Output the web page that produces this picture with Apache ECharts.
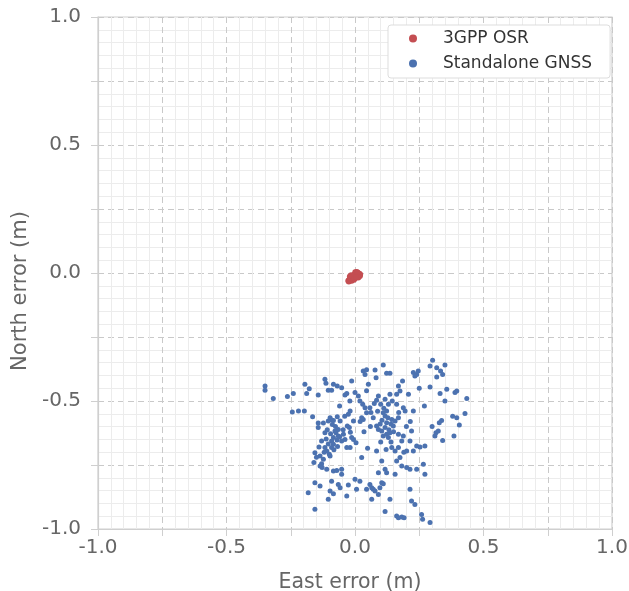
<!DOCTYPE html>
<html>
<head>
<meta charset="utf-8">
<script src="https://cdn.jsdelivr.net/npm/echarts@6/dist/echarts.min.js"></script>
<style>html,body{margin:0;padding:0;background:#fff;}#c{width:629px;height:591px;}</style>
</head>
<body>
<div id="c"></div>
<script>
const seriesNames = ['3GPP OSR', 'Standalone GNSS'];
const xTickLabels = ['-1.0', '-0.5', '0.0', '0.5', '1.0'];
const yTickLabels = ['-1.0', '-0.5', '0.0', '0.5', '1.0'];

const osrPoints = [
  [-0.026,-0.030],[-0.022,-0.026],[-0.018,-0.028],[-0.016,-0.020],[-0.013,-0.030],
  [-0.012,-0.016],[-0.009,-0.022],[-0.007,-0.012],[-0.004,-0.018],[-0.002,-0.006],
  [0.000,-0.013],[0.002,-0.004],[0.005,-0.009],[0.008,-0.001],[0.010,-0.016],
  [0.012,-0.007],[0.015,-0.010],[0.017,-0.003],[0.019,-0.012],[-0.020,-0.014],
  [-0.024,-0.033],[0.001,0.003],[0.006,0.004],[-0.005,-0.026],[0.013,-0.018],
  [0.020,-0.006],[-0.015,-0.009],[-0.001,-0.022],[0.010,0.002],[0.004,-0.016]
];

const gnssPoints = [
  [-0.350,-0.441],[-0.350,-0.458],[-0.318,-0.490],[-0.263,-0.482],[-0.240,-0.471],
  [-0.244,-0.543],[-0.220,-0.539],[-0.197,-0.539],[-0.195,-0.435],[-0.178,-0.452],
  [-0.188,-0.471],[-0.143,-0.477],[-0.165,-0.562],[-0.143,-0.586],[-0.117,-0.415],
  [-0.113,-0.431],[-0.104,-0.458],[-0.091,-0.458],[-0.084,-0.435],[-0.069,-0.441],
  [-0.052,-0.448],[-0.032,-0.471],[-0.039,-0.477],[-0.013,-0.422],[0.032,-0.383],
  [0.039,-0.396],[0.045,-0.378],[0.078,-0.379],[0.082,-0.409],[0.110,-0.359],
  [0.123,-0.392],[0.136,-0.392],[0.052,-0.435],[0.000,-0.467],[0.013,-0.480],
  [0.019,-0.500],[0.030,-0.513],[0.039,-0.526],[0.045,-0.546],[0.026,-0.565],
  [0.032,-0.572],[-0.019,-0.539],[-0.026,-0.552],[-0.006,-0.578],[-0.022,-0.604],
  [0.091,-0.480],[0.084,-0.497],[0.100,-0.513],[0.117,-0.493],[0.130,-0.513],
  [0.123,-0.539],[0.117,-0.559],[0.110,-0.546],[0.136,-0.474],[0.162,-0.474],
  [0.175,-0.461],[0.169,-0.441],[0.185,-0.422],[0.208,-0.474],[0.162,-0.513],
  [0.188,-0.526],[0.195,-0.539],[0.143,-0.572],[0.156,-0.578],[0.169,-0.565],
  [0.227,-0.389],[0.240,-0.396],[0.246,-0.383],[0.233,-0.402],[0.292,-0.363],
  [0.302,-0.341],[0.318,-0.370],[0.333,-0.383],[0.341,-0.396],[0.350,-0.359],
  [0.292,-0.445],[0.331,-0.471],[0.357,-0.454],[0.389,-0.467],[0.396,-0.461],
  [0.318,-0.406],[0.435,-0.490],[0.428,-0.549],[0.396,-0.565],[0.406,-0.594],
  [0.337,-0.576],[0.328,-0.585],[0.315,-0.624],[0.311,-0.637],[0.324,-0.617],
  [0.341,-0.654],[0.385,-0.637],[0.227,-0.539],[0.220,-0.617],[0.058,-0.526],
  [0.071,-0.565],[0.084,-0.598],[0.091,-0.611],[0.104,-0.617],[0.117,-0.604],
  [0.123,-0.585],[0.110,-0.637],[0.123,-0.630],[0.130,-0.643],[0.136,-0.624],
  [0.149,-0.598],[0.169,-0.630],[0.182,-0.656],[0.188,-0.637],[0.169,-0.682],
  [0.121,-0.689],[0.143,-0.682],[0.156,-0.695],[0.175,-0.721],[0.201,-0.695],
  [0.214,-0.656],[0.227,-0.695],[0.240,-0.676],[0.253,-0.680],[0.272,-0.676],
  [0.266,-0.747],[0.272,-0.786],[0.201,-0.760],[0.214,-0.767],[0.240,-0.767],
  [0.162,-0.734],[0.182,-0.754],[0.084,-0.695],[0.104,-0.734],[0.117,-0.767],
  [0.123,-0.780],[0.156,-0.786],[0.091,-0.780],[0.104,-0.819],[0.110,-0.823],
  [0.097,-0.839],[0.058,-0.826],[0.065,-0.839],[0.071,-0.845],[0.078,-0.852],
  [0.091,-0.865],[0.045,-0.845],[0.019,-0.813],[0.006,-0.845],[0.065,-0.884],
  [0.136,-0.884],[0.117,-0.932],[0.162,-0.949],[0.169,-0.956],[0.182,-0.953],
  [0.191,-0.956],[0.214,-0.845],[0.220,-0.891],[0.233,-0.904],[0.259,-0.943],
  [0.263,-0.962],[0.292,-0.975],[0.026,-0.721],[0.049,-0.685],[-0.006,-0.650],
  [0.004,-0.663],[-0.019,-0.682],[-0.013,-0.643],[-0.039,-0.650],[-0.045,-0.630],
  [-0.032,-0.682],[-0.052,-0.656],[-0.065,-0.611],[-0.074,-0.624],[-0.084,-0.643],
  [-0.091,-0.656],[-0.084,-0.669],[-0.097,-0.565],[-0.091,-0.574],[-0.104,-0.578],
  [-0.084,-0.576],[-0.069,-0.562],[-0.058,-0.578],[-0.078,-0.617],[-0.065,-0.637],
  [-0.117,-0.624],[-0.130,-0.656],[-0.117,-0.682],[-0.110,-0.695],[-0.100,-0.708],
  [-0.091,-0.682],[-0.097,-0.715],[-0.156,-0.702],[-0.136,-0.715],[-0.123,-0.728],
  [-0.130,-0.745],[-0.136,-0.754],[-0.110,-0.767],[-0.084,-0.773],[-0.071,-0.771],
  [-0.052,-0.767],[-0.052,-0.786],[-0.156,-0.819],[-0.136,-0.832],[-0.091,-0.813],
  [-0.182,-0.858],[-0.097,-0.852],[-0.084,-0.862],[-0.065,-0.826],[-0.058,-0.839],
  [-0.026,-0.828],[-0.032,-0.871],[0.000,-0.806],[-0.104,-0.884],[-0.156,-0.923],
  [-0.123,-0.586],[-0.143,-0.604],
  [-0.108,-0.612],[-0.095,-0.628],[-0.088,-0.592],[-0.076,-0.600],[-0.112,-0.648],
  [-0.104,-0.668],[-0.070,-0.652],[-0.060,-0.640],[-0.120,-0.700],[-0.082,-0.690],
  [-0.068,-0.678],[-0.046,-0.612],[-0.030,-0.598],[-0.018,-0.622],[-0.140,-0.680],
  [-0.150,-0.720],[-0.128,-0.760],[-0.160,-0.740],
  [0.105,-0.575],[0.128,-0.565],[0.140,-0.590],[0.098,-0.590],[0.132,-0.612],
  [0.150,-0.620],[0.112,-0.528],[0.075,-0.510],[0.062,-0.545],[0.088,-0.540],
  [0.145,-0.500],[0.170,-0.545],[0.200,-0.600],[0.215,-0.580],[0.190,-0.700],
  [0.140,-0.660],[0.100,-0.660],[0.060,-0.600],[0.035,-0.620],[0.020,-0.580],
  [0.045,-0.460],[-0.020,-0.500],[-0.060,-0.520],[-0.040,-0.560],[0.250,-0.450],
  [0.270,-0.520],[0.300,-0.600],[0.350,-0.500],[0.380,-0.560]
];

const FONT = 'DejaVu Sans';
function tickFmt(labels) {
  return function (v) {
    let s = v.toFixed(1);
    if (s === '-0.0') s = '0.0';
    const r = Math.round(v * 2);
    if (Math.abs(v * 2 - r) < 1e-9 && labels.indexOf(s) >= 0) return s;
    return '';
  };
}

function makeAxis(name, labels, isX) {
  return {
    type: 'value', min: -1, max: 1, interval: 0.25,
    name: name, nameLocation: 'middle', nameGap: isX ? 43 : 61,
    nameTextStyle: { fontFamily: FONT, fontSize: isX ? 20.5 : 21, color: '#666666',
                     padding: isX ? [0, 10, 0, 0] : [0, 36, 0, 0] },
    axisLine: { show: true, onZero: false, lineStyle: { color: '#cfcfcf', width: 1.2 } },
    axisTick: { show: true, length: 7, lineStyle: { color: '#cfcfcf' } },
    axisLabel: { formatter: tickFmt(labels), fontFamily: FONT, fontSize: 20, color: '#666666', margin: isX ? 9 : 17 },
    splitLine: { show: true, lineStyle: { color: '#c9c9c9', type: [6, 4], width: 1 } },
    minorTick: { show: false, splitNumber: 5 },
    minorSplitLine: { show: true, lineStyle: { color: '#ececec', width: 1 } }
  };
}

const chart = echarts.init(document.getElementById('c'), null, { renderer: 'canvas' });
chart.setOption({
  backgroundColor: '#ffffff',
  animation: false,
  grid: { left: 98, right: 17, top: 17, bottom: 62, containLabel: false, outerBoundsMode: 'none', show: true, borderColor: '#d0d0d0', borderWidth: 1.2, backgroundColor: 'transparent' },
  xAxis: makeAxis('East error (m)', xTickLabels, true),
  yAxis: makeAxis('North error (m)', yTickLabels, false),
  legend: {
    orient: 'vertical', left: 388, top: 25,
    data: seriesNames,
    itemWidth: 8, itemHeight: 8, itemGap: 8,
    padding: [5, 18, 6, 21],
    backgroundColor: '#ffffff', borderColor: '#dddddd', borderWidth: 1, borderRadius: 3,
    textStyle: { fontFamily: FONT, fontSize: 17, color: '#333333', padding: [0, 0, 0, 21] },
    icon: 'circle'
  },
  series: [
    { name: seriesNames[0], type: 'scatter', data: osrPoints, symbolSize: 6, itemStyle: { color: '#c44e52', opacity: 1 }, z: 3 },
    { name: seriesNames[1], type: 'scatter', data: gnssPoints, symbolSize: 5, itemStyle: { color: '#4c72b0', opacity: 1 }, z: 2 }
  ]
});
</script>
</body>
</html>
